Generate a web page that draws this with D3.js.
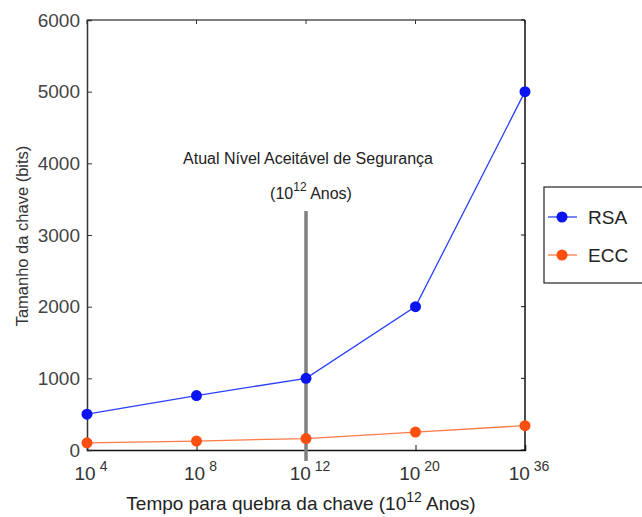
<!DOCTYPE html>
<html>
<head>
<meta charset="utf-8">
<script src="https://cdn.jsdelivr.net/npm/d3@7"></script>
<style>
  body { margin: 0; background: #fff; }
  svg { font-family: "Liberation Sans", Arial, sans-serif; }
</style>
</head>
<body>
<svg width="642" height="517"></svg>
<script>
// Chart data
const categories = ["4", "8", "12", "20", "36"];   // exponents of 10
const rsaValues = [500, 760, 1000, 2000, 5000];
const eccValues = [100, 125, 160, 250, 340];
const yTicks = [0, 1000, 2000, 3000, 4000, 5000, 6000];

const svg = d3.select("svg");

// Plot box
const plotLeft = 87, plotRight = 525, plotTop = 20, plotBottom = 450;

const xScale = d3.scalePoint().domain(categories).range([plotLeft, plotRight]);
const yScale = d3.scaleLinear().domain([0, 6000]).range([plotBottom, plotTop]);

// Frame (top/right drawn first so axes sit on top)
svg.append("line").attr("x1", plotLeft).attr("x2", plotRight).attr("y1", plotTop).attr("y2", plotTop)
  .attr("stroke", "#555").attr("stroke-width", 1.5);
svg.append("line").attr("x1", plotRight).attr("x2", plotRight).attr("y1", plotTop).attr("y2", plotBottom)
  .attr("stroke", "#111").attr("stroke-width", 1.5);

// X axis with inward ticks and superscript labels
const xAxis = d3.axisBottom(xScale).tickSize(-5).tickFormat("");
const gx = svg.append("g")
  .attr("transform", `translate(0,${plotBottom})`)
  .call(xAxis);
gx.select(".domain").attr("stroke", "#111").attr("stroke-width", 1.5);
gx.selectAll(".tick line").attr("stroke", "#111");

categories.forEach(c => {
  const t = svg.append("text")
    .attr("x", xScale(c) + 4)
    .attr("y", plotBottom + 30)
    .attr("text-anchor", "middle")
    .style("font-size", "19px")
    .style("fill", "#333");
  t.append("tspan").text("10");
  t.append("tspan").text(c).attr("dy", -9).attr("dx", 4).style("font-size", "14px");
});

// Top ticks (mirrored)
categories.forEach(c => {
  svg.append("line").attr("x1", xScale(c)).attr("x2", xScale(c))
    .attr("y1", plotTop).attr("y2", plotTop + 4).attr("stroke", "#333");
});

// Y axis
const yAxis = d3.axisLeft(yScale).tickValues(yTicks).tickSize(-5).tickPadding(7)
  .tickFormat(d3.format("d"));
const gy = svg.append("g")
  .attr("transform", `translate(${plotLeft},0)`)
  .call(yAxis);
gy.select(".domain").attr("stroke", "#333").attr("stroke-width", 1.5);
gy.selectAll(".tick line").attr("stroke", "#333");
gy.selectAll(".tick text")
  .style("font-size", "19px")
  .style("font-family", "Liberation Sans, Arial, sans-serif")
  .style("fill", "#444");

// Right-side y ticks
yTicks.forEach(v => {
  svg.append("line").attr("x1", plotRight).attr("x2", plotRight - 4)
    .attr("y1", yScale(v)).attr("y2", yScale(v)).attr("stroke", "#111");
});

// Axis titles
const xTitle = svg.append("text")
  .attr("x", (plotLeft + plotRight) / 2 - 5)
  .attr("y", 510)
  .attr("text-anchor", "middle")
  .style("font-size", "19px")
  .style("fill", "#222");
xTitle.append("tspan").text("Tempo para quebra da chave (10");
xTitle.append("tspan").text("12").attr("dy", -8).style("font-size", "14px");
xTitle.append("tspan").text(" Anos)").attr("dy", 8);

svg.append("text")
  .attr("transform", "rotate(-90)")
  .attr("x", -236)
  .attr("y", 28)
  .attr("text-anchor", "middle")
  .style("font-size", "16.5px")
  .style("fill", "#333")
  .text("Tamanho da chave (bits)");

// Current security level marker
svg.append("line")
  .attr("x1", xScale("12")).attr("x2", xScale("12"))
  .attr("y1", 211).attr("y2", plotBottom + 11)
  .attr("stroke", "#808080").attr("stroke-width", 3.5);

svg.append("text")
  .attr("x", xScale("12") + 2)
  .attr("y", 164)
  .attr("text-anchor", "middle")
  .style("font-size", "16px")
  .style("fill", "#222")
  .text("Atual Nível Aceitável de Segurança");

const ann = svg.append("text")
  .attr("x", xScale("12") + 5)
  .attr("y", 199)
  .attr("text-anchor", "middle")
  .style("font-size", "16px")
  .style("fill", "#222");
ann.append("tspan").text("(10");
ann.append("tspan").text("12").attr("dy", -8).style("font-size", "12px");
ann.append("tspan").text(" Anos)").attr("dy", 8);

// Series
const series = [
  { name: "RSA", values: rsaValues, line: "#2a40ff", dot: "#0a14f0" },
  { name: "ECC", values: eccValues, line: "#ff7a48", dot: "#ff4f10" }
];

const lineGen = d3.line()
  .x((d, i) => xScale(categories[i]))
  .y(d => yScale(d));

series.forEach(s => {
  svg.append("path")
    .datum(s.values)
    .attr("fill", "none")
    .attr("stroke", s.line)
    .attr("stroke-width", 1.3)
    .attr("d", lineGen);

  svg.selectAll(null)
    .data(s.values)
    .enter()
    .append("circle")
    .attr("cx", (d, i) => xScale(categories[i]))
    .attr("cy", d => yScale(d))
    .attr("r", 5.5)
    .attr("fill", s.dot);
});

// Legend
const legend = svg.append("g").attr("transform", "translate(544,187)");
legend.append("rect")
  .attr("width", 110).attr("height", 96)
  .attr("fill", "#fff").attr("stroke", "#222").attr("stroke-width", 1.2);

series.forEach((s, i) => {
  const y = 30 + i * 38;
  legend.append("line").attr("x1", 4).attr("x2", 33).attr("y1", y).attr("y2", y)
    .attr("stroke", s.line).attr("stroke-width", 1.3);
  legend.append("circle").attr("cx", 18).attr("cy", y).attr("r", 5.5).attr("fill", s.dot);
  legend.append("text").attr("x", 44).attr("y", y + 7)
    .style("font-size", "19px").style("fill", "#222").text(s.name);
});
</script>
</body>
</html>
